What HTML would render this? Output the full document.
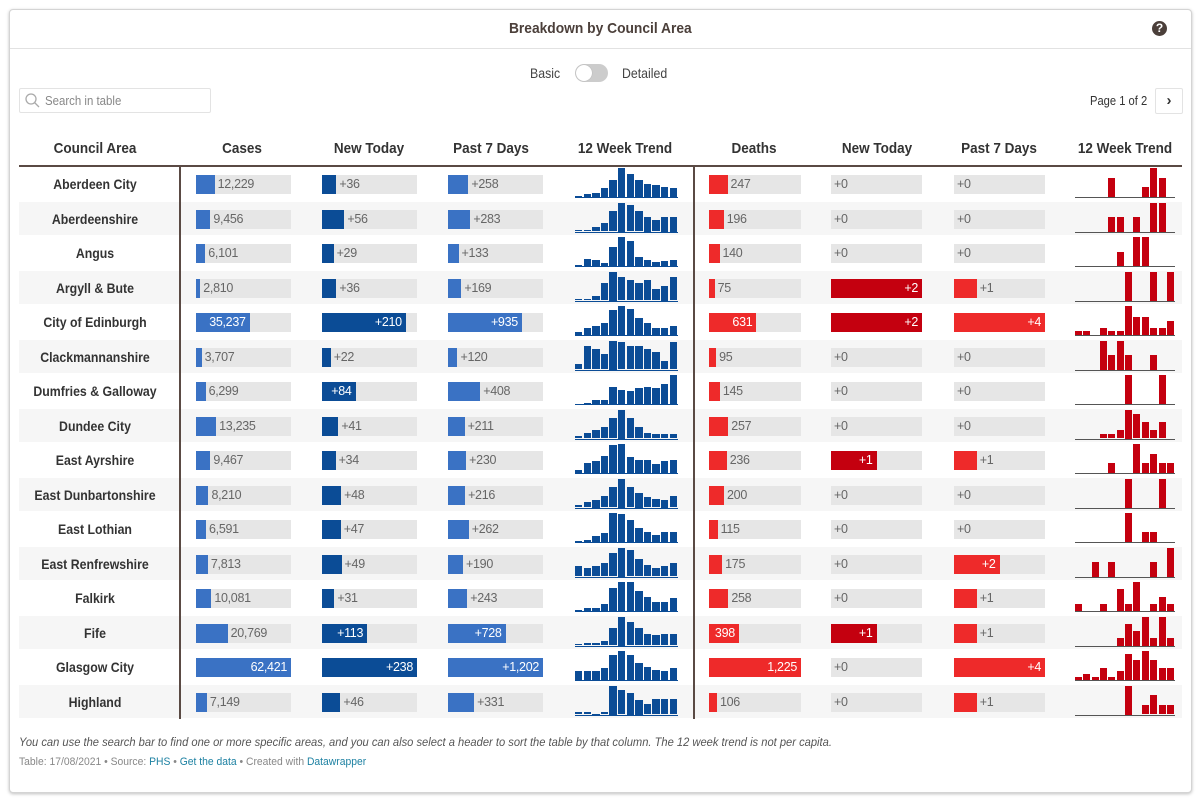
<!DOCTYPE html>
<html><head><meta charset="utf-8">
<style>
body{margin:0;width:1200px;height:798px;background:#fff;font-family:"Liberation Sans",sans-serif;overflow:hidden}
#card{position:absolute;left:9px;top:9px;width:1181px;height:782px;border:1px solid #d4d4d4;border-radius:4px;box-shadow:0 1px 3px rgba(0,0,0,.25);background:#fff}
.abs{position:absolute}
#title{left:0;top:0;width:1181px;height:38px;border-bottom:1px solid #e2e2e2;text-align:center;line-height:38px;font-weight:bold;font-size:15px;color:#4b3f3a}
.hd{position:absolute;top:140px;font-size:15px;font-weight:bold;color:#333;transform:translateX(-50%) scaleX(.9);white-space:nowrap}
.name{position:absolute;font-size:14px;font-weight:bold;color:#333;transform:translateX(-50%) scaleX(.88);white-space:nowrap}
</style></head>
<body>
<div id="card">
 <div id="title" class="abs"><span style="display:inline-block;transform:scaleX(.92)">Breakdown by Council Area</span></div>
 <div class="abs" style="left:1142px;top:11px;width:15px;height:15px;border-radius:50%;background:#4b3f3a;color:#fff;font-size:12px;font-weight:bold;text-align:center;line-height:15px">?</div>
</div>
<div class="abs" style="left:530px;top:65px;font-size:14px;color:#444;transform:scaleX(.88);transform-origin:left">Basic</div>
<div class="abs" style="left:575px;top:64px;width:33px;height:18px;border-radius:9px;background:#ccc"><div style="position:absolute;left:1px;top:1px;width:16px;height:16px;border-radius:50%;background:#fff;box-shadow:0 0 1px #999"></div></div>
<div class="abs" style="left:622px;top:65px;font-size:14px;color:#444;transform:scaleX(.88);transform-origin:left">Detailed</div>
<div class="abs" style="left:19px;top:88px;width:190px;height:23px;border:1px solid #e3e3e3;border-radius:2px;font-size:13px;color:#888;line-height:23px">
 <svg style="position:absolute;left:5px;top:4px" width="15" height="15"><circle cx="6" cy="6" r="5" fill="none" stroke="#aaa" stroke-width="1.3"/><line x1="9.5" y1="9.5" x2="14" y2="14" stroke="#aaa" stroke-width="1.3"/></svg>
 <span style="position:absolute;left:25px;transform:scaleX(.88);transform-origin:left">Search in table</span></div>
<div class="abs" style="left:1090px;top:93px;font-size:13px;color:#333;transform:scaleX(.86);transform-origin:left;white-space:nowrap">Page 1 of 2</div>
<div class="abs" style="left:1155px;top:88px;width:26px;height:24px;border:1px solid #e3e3e3;border-radius:2px;text-align:center;line-height:23px;font-size:15px;font-weight:bold;color:#333">&#8250;</div>
<div id="tbl"></div>
<div class="abs" style="left:19px;top:737px;font-size:11.5px;font-style:italic;color:#555;transform:scaleX(.97);transform-origin:left;white-space:nowrap">You can use the search bar to find one or more specific areas, and you can also select a header to sort the table by that column. The 12 week trend is not per capita.</div>
<div class="abs" style="left:19px;top:756px;font-size:11px;color:#888;transform:scaleX(.94);transform-origin:left;white-space:nowrap">Table: 17/08/2021 • Source: <span style="color:#1d81a2">PHS</span> • <span style="color:#1d81a2">Get the data</span> • Created with <span style="color:#1d81a2">Datawrapper</span></div>
<script>
const areas=["Aberdeen City","Aberdeenshire","Angus","Argyll & Bute","City of Edinburgh","Clackmannanshire","Dumfries & Galloway","Dundee City","East Ayrshire","East Dunbartonshire","East Lothian","East Renfrewshire","Falkirk","Fife","Glasgow City","Highland"];
const cases=[12229,9456,6101,2810,35237,3707,6299,13235,9467,8210,6591,7813,10081,20769,62421,7149];
const casesNew=[36,56,29,36,210,22,84,41,34,48,47,49,31,113,238,46];
const cases7=[258,283,133,169,935,120,408,211,230,216,262,190,243,728,1202,331];
const deaths=[247,196,140,75,631,95,145,257,236,200,115,175,258,398,1225,106];
const deathsNew=[0,0,0,2,2,0,0,0,1,0,0,0,0,1,0,0];
const deaths7=[0,0,0,1,4,0,0,0,1,0,0,2,1,1,4,1];
const caseTrend=[
[0.5,1,1.5,3,6,10,8,6,4.5,4,3.5,3],
[0.5,0.5,1.5,3,7,10,9,7,5,4,5,5],
[0.5,2.5,2.2,1.2,6.5,10,8.5,3,2,1.5,1.8,2],
[0.5,0.5,1.5,6,10,8,7,6,7,4,5,8],
[1,2.5,3,4,8.5,10,9,6,4,2.5,2.5,3],
[2,8,7,5.5,10,9.5,8,8,7,6,3,9.5],
[0,0.5,1.5,1.5,6,5,4.5,5.5,6,5.5,7,10],
[1,2,3,4,7,10,7,4,2,1.5,1.5,1.5],
[1,3.5,4,6,9.5,10,5.5,4.5,4.5,3,4,4.5],
[1,2,2.5,4,7,10,7,5,3.5,3,2.5,4],
[0.3,0.7,2,3,10,9.5,7.5,5,3.5,2.5,3.5,3.5],
[3.5,3,3.5,4.5,8,10,9,6,4,3,3.5,4.5],
[0.5,1,1,2.5,8,10,10,7,5,3,3,4.5],
[0.5,1,1,1.5,6,10,8,6,4,3.5,4,4],
[3,3,3,4,8.5,10,8.5,6,4.5,3.5,3,4],
[1,1,0.3,1,10,8.5,7.5,5,3.5,5.5,5.5,5.5]];
const deathTrend=[
[0,0,0,0,2,0,0,0,1,3,2,0],
[0,0,0,0,1,1,0,1,0,2,2,0],
[0,0,0,0,0,1,0,2,2,0,0,0],
[0,0,0,0,0,0,1,0,0,1,0,1],
[1,1,0,2,1,1,8,5,5,2,2,4],
[0,0,0,2,1,2,1,0,0,1,0,0],
[0,0,0,0,0,0,1,0,0,0,1,0],
[0,0,0,1,1,2,7,6,4,2,4,0],
[0,0,0,0,1,0,0,3,1,2,1,1],
[0,0,0,0,0,0,1,0,0,0,1,0],
[0,0,0,0,0,0,3,0,1,1,0,0],
[0,0,1,0,1,0,0,0,0,1,0,2],
[1,0,0,1,0,3,1,4,0,1,2,1],
[0,0,0,0,0,1,3,2,4,1,4,1],
[1,2,1,4,1,3,9,7,10,7,4,4],
[0,0,0,0,0,0,3,0,1,2,1,1]];

const T=document.getElementById('tbl');
const TOP=167,RH=34.5;
function mk(tag,css,parent){const e=document.createElement(tag);e.style.cssText=css;(parent||T).appendChild(e);return e;}
const headers=[["Council Area",95],["Cases",242],["New Today",369],["Past 7 Days",491],["12 Week Trend",625],["Deaths",754],["New Today",877],["Past 7 Days",999],["12 Week Trend",1125]];
headers.forEach(h=>{const e=mk('div','left:'+h[1]+'px');e.className='hd';e.textContent=h[0];

});
const hl=mk('div','position:absolute;left:19px;top:165px;width:1163px;height:2px;background:#5a4a44');


areas.forEach((a,i)=>{
 const y=TOP+i*RH;
 const r=mk('div','position:absolute;left:19px;top:'+y+'px;width:1163px;height:'+RH+'px;background:'+(i%2?'#f6f6f6':'#fff')+';border-bottom:1px solid #fff;box-sizing:border-box');
 
 
 const n=mk('div','left:95px;top:'+(y+9)+'px');n.className='name';n.textContent=a;
 
 
});
[179,693].forEach(x=>{const v=mk('div','position:absolute;left:'+x+'px;top:167px;width:2px;height:'+(RH*16)+'px;background:#5a4a44');

});
function fmt(v,plus){const s=v.toLocaleString('en-US');return plus?'+'+s:s;}
function barCol(vals,x0,w,color,plus,name){
 const mx=Math.max(...vals);
 vals.forEach((v,i)=>{
  const y=TOP+i*RH+8;
  const bg=mk('div','position:absolute;left:'+x0+'px;top:'+y+'px;width:'+w+'px;height:19px;background:#e6e6e6');
  
  
  const bw=mx?v/mx*w:0;
  const b=mk('div','position:absolute;left:0;top:0;height:19px;width:'+bw+'px;background:'+color,bg);
  
  
  const txt=fmt(v,plus);const tw=txt.length*5.5+13;
  const t=mk('div','position:absolute;top:2px;font-size:12.5px;white-space:nowrap;letter-spacing:-0.3px;',bg);
  if(bw>tw){t.style.right=(w-bw+4)+'px';t.style.color='#fff';}else{t.style.left=(bw+3)+'px';t.style.color='#666';}
  t.textContent=txt;
  
  
 });
}
barCol(cases,196,95,'#3a72c4',false,'cases');
barCol(casesNew,322,95,'#0b4c96',true,'cases-new');
barCol(cases7,448,95,'#3a72c4',true,'cases-7day');
barCol(deaths,709,92,'#ee2a2a',false,'deaths');
barCol(deathsNew,831,91,'#c4000f',true,'deaths-new');
barCol(deaths7,954,91,'#ee2a2a',true,'deaths-7day');
function spark(data,x0,step,bw,color,line,name){
 data.forEach((arr,i)=>{
  const base=TOP+i*RH+30;const mx=Math.max(...arr);
  const l=mk('div','position:absolute;left:'+x0+'px;top:'+base+'px;width:'+(step*12)+'px;height:1px;background:'+line);
  
  
  arr.forEach((v,j)=>{
   if(!v)return;const h=mx?v/mx*29:0;
   const b=mk('div','position:absolute;left:'+(x0+j*step)+'px;top:'+(base-h)+'px;width:'+bw+'px;height:'+h+'px;background:'+color);
   
   
  });
 });
}
spark(caseTrend,575,8.6,7.4,'#0b4c96','#0b4c96','case-trend');
spark(deathTrend,1075,8.35,7,'#c4000f','#555','death-trend');
</script>
</body></html>
